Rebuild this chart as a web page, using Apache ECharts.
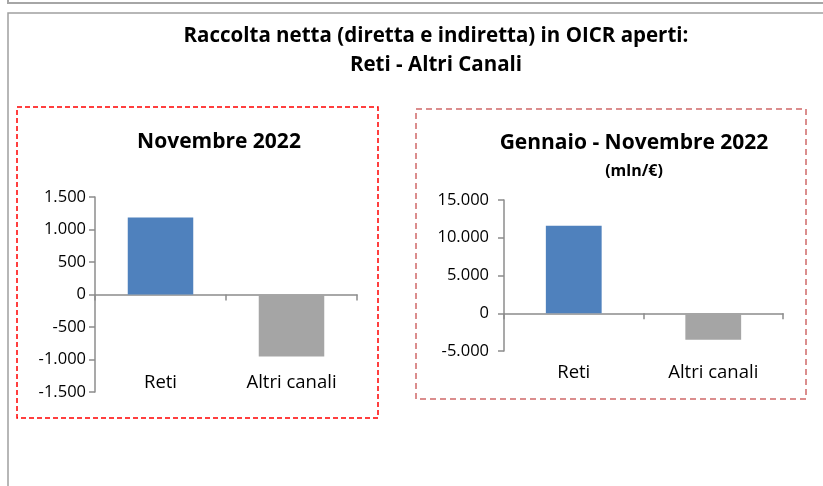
<!DOCTYPE html>
<html>
<head>
<meta charset="utf-8">
<script src="https://cdn.jsdelivr.net/npm/echarts@6/dist/echarts.min.js"></script>
<style>
html,body{margin:0;padding:0;background:#fff;}
#chart{width:823px;height:486px;}
</style>
</head>
<body>
<div id="chart"></div>
<script>
// dati (mln/€)
var categories = ['Reti', 'Altri canali'];
var novembre = [1185, -955];
var gennaioNovembre = [11600, -3500];
var barColors = ['#4f81bd', '#a5a5a5'];
var ticksNov = [-1500, -1000, -500, 0, 500, 1000, 1500];
var ticksGenNov = [-5000, 0, 5000, 10000, 15000];

var FONT = 'Open Sans';

// separatore migliaia col punto
function fmt(v) {
  var s = String(Math.abs(v)).replace(/\B(?=(\d{3})+(?!\d))/g, '.');
  return (v < 0 ? '-' : '') + s;
}

function barData(values) {
  return values.map(function (v, i) {
    return { value: v, itemStyle: { color: barColors[i] } };
  });
}

function xAxisFor(gridIndex, labelMargin) {
  return {
    type: 'category',
    gridIndex: gridIndex,
    data: categories,
    axisLine: { onZero: true, lineStyle: { color: '#8c8c8c', width: 1.5 } },
    axisTick: { show: true, length: 6, lineStyle: { color: '#8c8c8c', width: 1.5 } },
    axisLabel: { margin: labelMargin, color: '#000', fontFamily: FONT, fontSize: 18.5 },
    splitLine: { show: false }
  };
}

function yAxisFor(gridIndex, ticks, labelMargin) {
  return {
    type: 'value',
    gridIndex: gridIndex,
    min: ticks[0],
    max: ticks[ticks.length - 1],
    interval: ticks[1] - ticks[0],
    axisLine: { show: true, lineStyle: { color: '#8c8c8c', width: 1.5 } },
    axisTick: { show: true, length: 6, lineStyle: { color: '#8c8c8c', width: 1.5 } },
    axisLabel: { margin: labelMargin, color: '#000', fontFamily: FONT, fontSize: 16.5, formatter: fmt },
    splitLine: { show: false }
  };
}

function titleStyle(size, lh) {
  return { fontFamily: FONT, fontWeight: 'bold', fontSize: size, color: '#000', lineHeight: lh };
}

var chart = echarts.init(document.getElementById('chart'));

chart.setOption({
  animation: false,
  backgroundColor: '#fff',
  title: [
    { text: 'Raccolta netta (diretta e indiretta) in OICR aperti:', left: 436, top: 24, padding: 0,
      textAlign: 'center', textStyle: titleStyle(20.5, 24) },
    { text: 'Reti - Altri Canali', left: 436, top: 53, padding: 0,
      textAlign: 'center', textStyle: titleStyle(20.5, 24) },
    { text: 'Novembre 2022', left: 219, top: 130, padding: 0,
      textAlign: 'center', textStyle: titleStyle(21, 24) },
    { text: 'Gennaio - Novembre 2022', left: 634, top: 131, padding: 0,
      textAlign: 'center', textStyle: titleStyle(21, 24) },
    { text: '(mln/€)', left: 634, top: 161, padding: 0,
      textAlign: 'center', textStyle: titleStyle(16, 20) }
  ],
  grid: [
    { left: 95, top: 197, width: 262, height: 195 },
    { left: 504, top: 200, width: 279, height: 151 }
  ],
  xAxis: [xAxisFor(0, -19), xAxisFor(1, 12)],
  yAxis: [yAxisFor(0, ticksNov, 9), yAxisFor(1, ticksGenNov, 15)],
  series: [
    { type: 'bar', xAxisIndex: 0, yAxisIndex: 0, barWidth: '50%', data: barData(novembre) },
    { type: 'bar', xAxisIndex: 1, yAxisIndex: 1, barWidth: '40%', data: barData(gennaioNovembre) }
  ],
  graphic: [
    { type: 'polyline', silent: true, shape: { points: [[8, 0], [8, 3], [823, 3]] },
      style: { fill: null, stroke: '#a6a6a6', lineWidth: 2 } },
    { type: 'polyline', silent: true, shape: { points: [[823, 13], [8, 13], [8, 486]] },
      style: { fill: null, stroke: '#a0a0a0', lineWidth: 1.5 } },
    { type: 'rect', silent: true, shape: { x: 17, y: 107, width: 361, height: 311 },
      style: { fill: null, stroke: '#ff0000', lineWidth: 1.5, lineDash: [5, 3] } },
    { type: 'rect', silent: true, shape: { x: 416, y: 109, width: 390, height: 290 },
      style: { fill: null, stroke: '#d06868', lineWidth: 1.5, lineDash: [6, 4] } }
  ]
});
</script>
</body>
</html>
